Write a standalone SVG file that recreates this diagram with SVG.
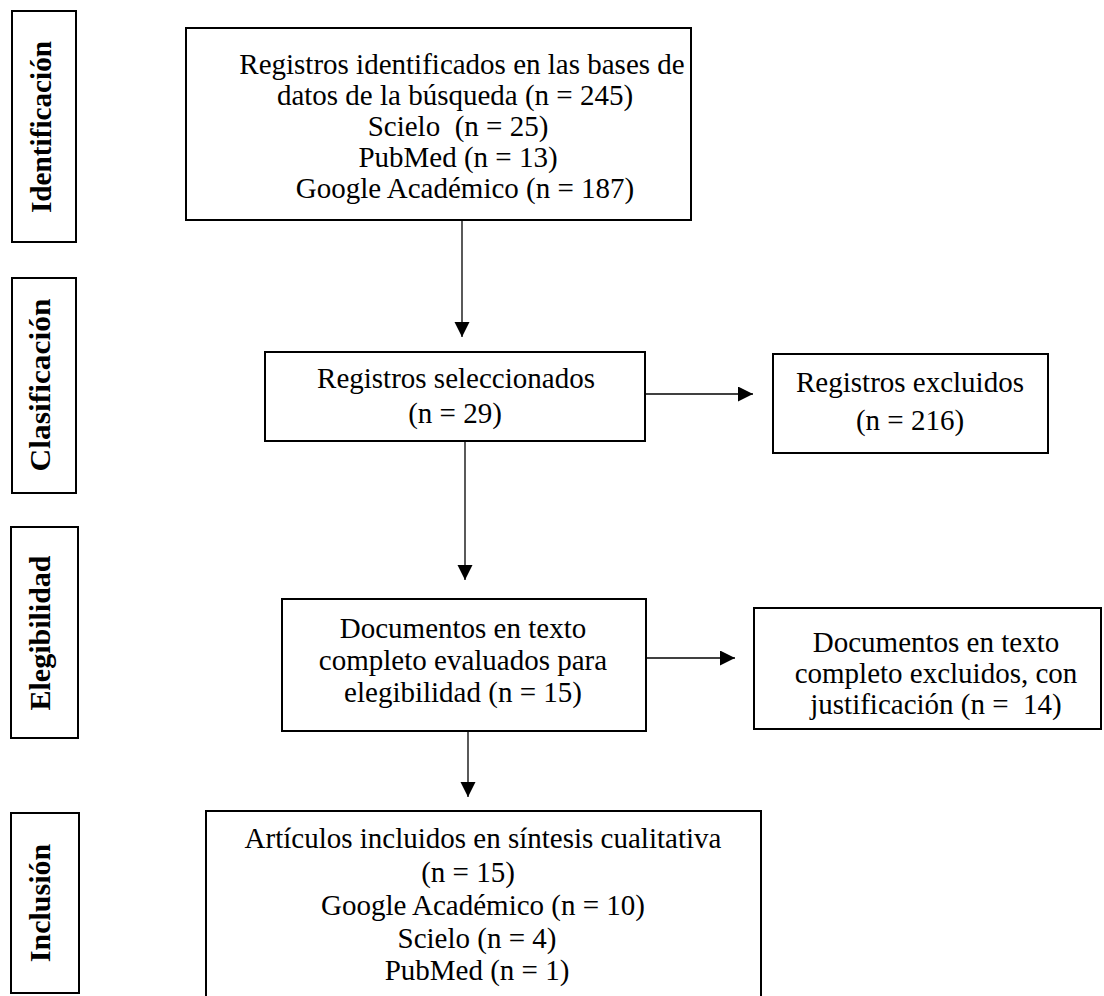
<svg xmlns="http://www.w3.org/2000/svg" width="1104" height="996" viewBox="0 0 1104 996">
<defs>
<style>
.box{fill:#fff;stroke:#000;stroke-width:2}
.t{font-family:"Liberation Serif","Times New Roman",serif;font-size:29px;fill:#000;text-anchor:middle}
.side{font-family:"Liberation Serif","Times New Roman",serif;font-size:30px;font-weight:bold;fill:#000;text-anchor:middle}
.c{fill:none;stroke:#000;stroke-width:1.3}
</style>
<marker id="ah" markerUnits="userSpaceOnUse" markerWidth="16" markerHeight="16" refX="15" refY="7.5" orient="auto" viewBox="0 0 16 16">
<path d="M0,0 L15,7.5 L0,15 z" fill="#000"/>
</marker>
</defs>
<rect width="1104" height="996" fill="#fff"/>

<g id="lbl-identificacion">
<rect class="box" x="12" y="11" width="64" height="231"/>
<text class="side" transform="translate(51,127) rotate(-90)" textLength="172" lengthAdjust="spacingAndGlyphs">Identificación</text>
</g>
<g id="lbl-clasificacion">
<rect class="box" x="12" y="278" width="64" height="215"/>
<text class="side" transform="translate(50,385) rotate(-90)" textLength="173" lengthAdjust="spacingAndGlyphs">Clasificación</text>
</g>
<g id="lbl-elegibilidad">
<rect class="box" x="11" y="527" width="67" height="211"/>
<text class="side" transform="translate(50,633) rotate(-90)">Elegibilidad</text>
</g>
<g id="lbl-inclusion">
<rect class="box" x="11" y="813" width="68" height="180"/>
<text class="side" transform="translate(50,903) rotate(-90)">Inclusión</text>
</g>

<g id="n-identificados">
<rect class="box" x="186" y="28" width="505" height="192"/>
<text class="t" x="462" y="74">Registros identificados en las bases de</text>
<text class="t" x="455" y="105">datos de la búsqueda (n = 245)</text>
<text class="t" x="458" y="136" xml:space="preserve">Scielo  (n = 25)</text>
<text class="t" x="458" y="167">PubMed (n = 13)</text>
<text class="t" x="465" y="198">Google Académico (n = 187)</text>
</g>

<g id="n-seleccionados">
<rect class="box" x="265" y="352" width="380" height="89"/>
<text class="t" x="456" y="388">Registros seleccionados</text>
<text class="t" x="455" y="423">(n = 29)</text>
</g>

<g id="n-excluidos">
<rect class="box" x="773" y="354" width="275" height="99"/>
<text class="t" x="910" y="392">Registros excluidos</text>
<text class="t" x="910" y="430">(n = 216)</text>
</g>

<g id="n-evaluados">
<rect class="box" x="282" y="599" width="364" height="132"/>
<text class="t" x="463" y="638">Documentos en texto</text>
<text class="t" x="463" y="670">completo evaluados para</text>
<text class="t" x="463" y="702">elegibilidad (n = 15)</text>
</g>

<g id="n-excluidos-texto">
<rect class="box" x="754" y="608" width="347" height="121"/>
<text class="t" x="936" y="652">Documentos en texto</text>
<text class="t" x="936" y="683">completo excluidos, con</text>
<text class="t" x="936" y="714" xml:space="preserve">justificación (n =  14)</text>
</g>

<g id="n-incluidos">
<rect class="box" x="206" y="811" width="555" height="200"/>
<text class="t" x="483" y="848">Artículos incluidos en síntesis cualitativa</text>
<text class="t" x="468" y="882">(n = 15)</text>
<text class="t" x="483" y="915">Google Académico (n = 10)</text>
<text class="t" x="477" y="948">Scielo (n = 4)</text>
<text class="t" x="477" y="980">PubMed (n = 1)</text>
</g>

<g id="connectors">
<line class="c" x1="462" y1="220" x2="462" y2="337" marker-end="url(#ah)"/>
<line class="c" x1="645" y1="394" x2="753" y2="394" marker-end="url(#ah)"/>
<line class="c" x1="465" y1="441" x2="465" y2="580" marker-end="url(#ah)"/>
<line class="c" x1="646" y1="658" x2="735" y2="658" marker-end="url(#ah)"/>
<line class="c" x1="468" y1="731" x2="468" y2="797" marker-end="url(#ah)"/>
</g>
</svg>
